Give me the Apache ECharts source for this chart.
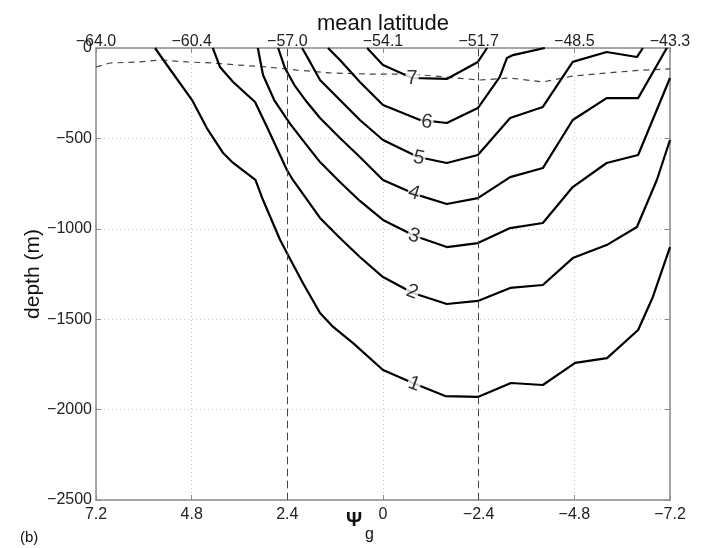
<!DOCTYPE html>
<html>
<head>
<meta charset="utf-8">
<script src="https://cdn.jsdelivr.net/npm/echarts@6/dist/echarts.min.js"></script>
<style>
  html, body { margin: 0; padding: 0; background: #fff; }
  #chart { width: 704px; height: 548px; }
</style>
</head>
<body>
<div id="chart"></div>
<script>
// ---- data (psi_g, depth m) ----
const bottomTickLabels = ['7.2', '4.8', '2.4', '0', '\u22122.4', '\u22124.8', '\u22127.2'];
const topTickLabels = ['\u221264.0', '\u221260.4', '\u221257.0', '\u221254.1', '\u221251.7', '\u221248.5', '\u221243.3'];
const verticalDashed = [2.4, -2.4];

const contour1 = [[5.72,0],[5.42,-94],[4.79,-288],[4.42,-443],[4.01,-581],[3.76,-636],[3.20,-730],[3.01,-841],[2.58,-1062],[2.41,-1134],[2.01,-1300],[1.58,-1466],[1.25,-1543],[0.75,-1632],[0.0,-1781],[-0.75,-1853],[-1.56,-1925],[-2.38,-1930],[-3.21,-1853],[-4.01,-1864],[-4.82,-1742],[-5.62,-1715],[-6.40,-1560],[-6.77,-1377],[-7.2,-1101]];
const contour2 = [[4.27,0],[4.09,-105],[3.76,-188],[3.21,-299],[2.91,-437],[2.41,-675],[2.26,-730],[1.58,-940],[1.08,-1051],[0.58,-1156],[0.0,-1267],[-0.75,-1355],[-1.60,-1416],[-2.38,-1399],[-3.19,-1327],[-4.01,-1311],[-4.76,-1162],[-5.61,-1090],[-6.37,-990],[-6.87,-730],[-7.2,-509]];
const contour3 = [[3.14,0],[3.01,-149],[2.73,-288],[2.33,-420],[1.96,-525],[1.58,-631],[1.08,-741],[0.58,-846],[0.0,-951],[-0.80,-1040],[-1.60,-1101],[-2.38,-1079],[-3.19,-996],[-4.01,-968],[-4.76,-769],[-5.61,-636],[-6.40,-592],[-7.2,-166]];
const contour4 = [[2.63,0],[2.46,-111],[2.21,-210],[1.91,-299],[1.58,-387],[1.08,-498],[0.58,-603],[0.0,-730],[-0.80,-808],[-1.60,-863],[-2.38,-830],[-3.19,-714],[-4.01,-664],[-4.76,-398],[-5.61,-277],[-6.40,-277],[-7.12,0]];
const contour5 = [[2.03,0],[1.83,-77],[1.58,-177],[1.08,-288],[0.58,-398],[0.0,-509],[-0.88,-603],[-1.60,-636],[-2.38,-592],[-3.19,-387],[-4.01,-326],[-4.76,-77],[-5.61,-22],[-6.37,-50],[-6.52,0]];
const contour6 = [[1.38,0],[1.08,-66],[0.58,-188],[0.0,-315],[-0.93,-398],[-1.60,-415],[-2.38,-332],[-2.93,-160],[-3.11,-55],[-3.26,-39],[-4.06,0]];
const contour7 = [[0.40,0],[0.0,-94],[-0.73,-166],[-1.60,-171],[-2.38,-77],[-2.61,0]];

const mixedLayer = [[7.2,-105],[6.85,-83],[6.10,-77],[5.59,-66],[4.92,-77],[4.27,-83],[3.66,-94],[2.91,-105],[2.16,-122],[1.33,-138],[0.33,-144],[-0.68,-144],[-1.55,-160],[-2.43,-177],[-3.19,-166],[-4.01,-188],[-4.76,-155],[-5.61,-138],[-6.52,-122],[-7.2,-116]];

const contourLabels = ['1', '2', '3', '4', '5', '6', '7'];
const contourLabelPos = [[-0.78,-1858],[-0.73,-1350],[-0.78,-1040],[-0.78,-802],[-0.90,-608],[-1.10,-409],[-0.73,-166]];
const contourLabelAngle = [-20, -20, -18, -18, -12, -8, 0];

// ---- chart ----
const FONT = "'Liberation Sans', Arial, Helvetica, sans-serif";
const tickIndex = v => Math.round((7.2 - v) / 2.4);
const axisGray = '#8a8a8a';

const contours = [contour1, contour2, contour3, contour4, contour5, contour6, contour7];
const series = contours.map((c, i) => ({
  type: 'line', name: 'c' + (i + 1), data: c, symbol: 'none',
  lineStyle: { color: '#000', width: 2.2 }, z: 3, silent: true,
  xAxisIndex: 0, yAxisIndex: 0
}));
series.push({
  type: 'line', name: 'mld', data: mixedLayer, symbol: 'none', z: 2,
  lineStyle: { color: '#444', width: 1.2, type: [6, 5] },
  markLine: {
    silent: true, symbol: 'none', label: { show: false },
    lineStyle: { color: '#444', width: 1, type: [7, 5] },
    data: verticalDashed.map(v => ({ xAxis: v }))
  }
});
series.push({
  type: 'scatter', name: 'labels', symbolSize: 0, z: 5,
  data: contourLabelPos.map((p, i) => ({
    value: p,
    label: { rotate: contourLabelAngle[i] }
  })),
  label: {
    show: true, position: 'inside',
    formatter: p => contourLabels[p.dataIndex],
    fontSize: 20, color: '#000', fontFamily: FONT,
    backgroundColor: '#fff', padding: [0, 1]
  }
});

const chart = echarts.init(document.getElementById('chart'), null, { renderer: 'canvas' });
chart.setOption({
  animation: false,
  backgroundColor: '#fff',
  grid: { left: 96, right: 34, top: 48, bottom: 48 },
  xAxis: [
    {
      type: 'value', position: 'bottom', inverse: true,
      min: -7.2, max: 7.2, interval: 2.4,
      axisLine: { show: true, onZero: false, lineStyle: { color: axisGray, width: 1.5 } },
      axisTick: { show: true, inside: true, length: 5, lineStyle: { color: axisGray } },
      axisLabel: {
        margin: 7, fontSize: 16, color: '#222', fontFamily: FONT,
        formatter: v => bottomTickLabels[tickIndex(v)]
      },
      splitLine: { show: true, lineStyle: { color: '#c8c8c8', type: [1, 3], width: 1 } }
    },
    {
      type: 'value', position: 'top', inverse: true,
      min: -7.2, max: 7.2, interval: 2.4,
      name: 'mean latitude', nameLocation: 'middle', nameGap: 13, nameMoveOverlap: false,
      nameTextStyle: { fontSize: 22, color: '#111', fontFamily: FONT },
      axisLine: { show: true, onZero: false, lineStyle: { color: axisGray, width: 1.5 } },
      axisTick: { show: true, inside: true, length: 5, lineStyle: { color: axisGray } },
      axisLabel: {
        margin: -2, fontSize: 16, color: '#222', fontFamily: FONT,
        formatter: v => topTickLabels[tickIndex(v)]
      },
      splitLine: { show: false }
    }
  ],
  yAxis: [
    {
      type: 'value', position: 'left', min: -2500, max: 0, interval: 500,
      name: 'depth (m)', nameLocation: 'middle', nameGap: 52, nameRotate: 90, nameMoveOverlap: false,
      nameTextStyle: { fontSize: 21, color: '#111', fontFamily: FONT },
      axisLine: { show: true, onZero: false, lineStyle: { color: axisGray, width: 1.5 } },
      axisTick: { show: true, inside: true, length: 5, lineStyle: { color: axisGray } },
      axisLabel: {
        margin: 4, fontSize: 16, color: '#222', fontFamily: FONT,
        formatter: v => v === 0 ? '0' : '\u2212' + Math.abs(v)
      },
      splitLine: { show: true, lineStyle: { color: '#c8c8c8', type: [1, 3], width: 1 } }
    },
    {
      type: 'value', position: 'right', min: -2500, max: 0, interval: 500,
      axisLine: { show: true, onZero: false, lineStyle: { color: axisGray, width: 1.5 } },
      axisTick: { show: true, inside: true, length: 5, lineStyle: { color: axisGray } },
      axisLabel: { show: false },
      splitLine: { show: false }
    }
  ],
  graphic: [
    { type: 'text', left: 346, top: 510, style: { text: '\u03A8', font: "bold 20px " + FONT, fill: '#111' } },
    { type: 'text', left: 365, top: 527, style: { text: 'g', font: "16px " + FONT, fill: '#111' } },
    { type: 'text', left: 20, top: 530, style: { text: '(b)', font: "15px " + FONT, fill: '#111' } }
  ],
  series: series
});
</script>
</body>
</html>
